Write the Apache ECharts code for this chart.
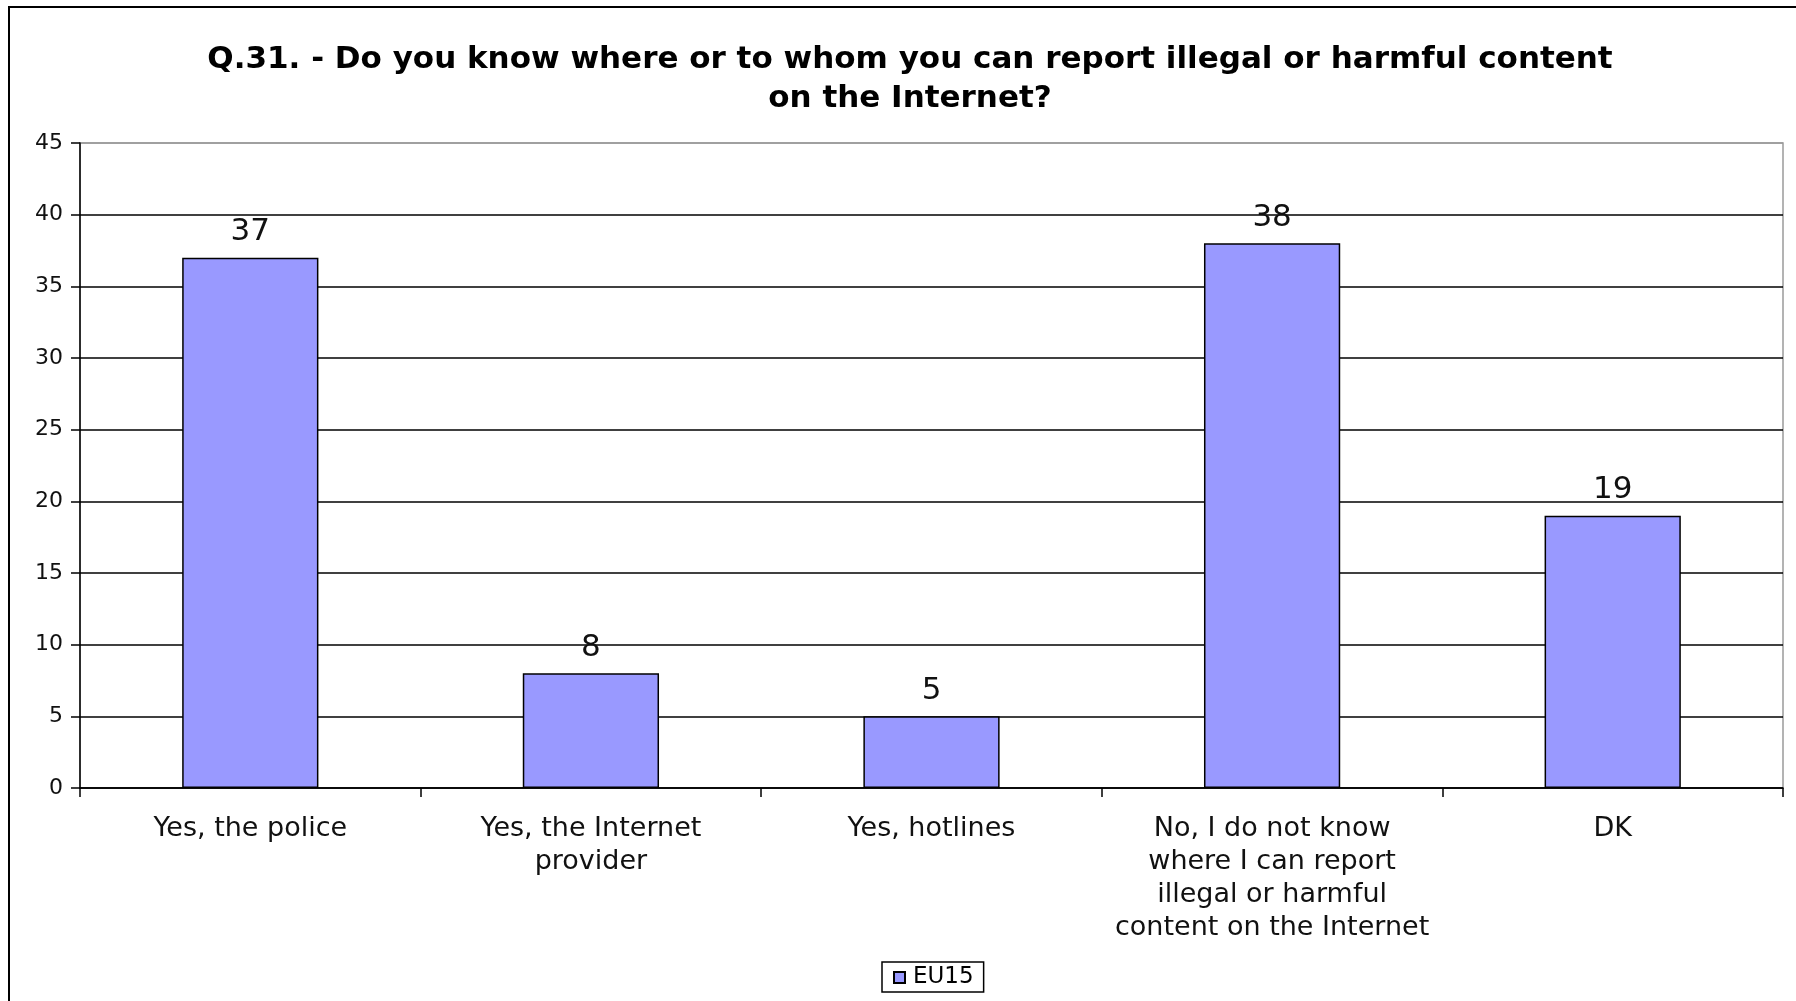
<!DOCTYPE html>
<html>
<head>
<meta charset="utf-8">
<script src="https://cdn.jsdelivr.net/npm/echarts@6/dist/echarts.min.js"></script>
<style>
html,body{margin:0;padding:0;background:#fff;}
#chart{width:1796px;height:1001px;}
</style>
</head>
<body>
<div id="chart"></div>
<script>
const titleText = "Q.31. - Do you know where or to whom you can report illegal or harmful content\non the Internet?";
const categories = [
  "Yes, the police",
  "Yes, the Internet\nprovider",
  "Yes, hotlines",
  "No, I do not know\nwhere I can report\nillegal or harmful\ncontent on the Internet",
  "DK"
];
const seriesName = "EU15";
const values = [37, 8, 5, 38, 19];
const yTicks = [0, 5, 10, 15, 20, 25, 30, 35, 40, 45];

const chart = echarts.init(document.getElementById('chart'), null, {renderer: 'canvas'});
const font = "'DejaVu Sans', 'Liberation Sans', Arial, sans-serif";
const gridColors = yTicks.map((t, i) => i === yTicks.length - 1 ? '#9a9a9a' : '#000');

chart.setOption({
  backgroundColor: '#fff',
  animation: false,
  graphic: [{
    type: 'rect',
    shape: {x: 9, y: 7, width: 1800, height: 1000},
    style: {fill: 'none', stroke: '#000', lineWidth: 2}
  }],
  title: {
    text: titleText,
    left: 905,
    top: 35,
    textAlign: 'center',
    textStyle: {fontFamily: font, fontSize: 31, fontWeight: 'bold', color: '#000', lineHeight: 39}
  },
  legend: {
    top: 962,
    left: 882,
    data: [seriesName],
    itemWidth: 11,
    itemHeight: 11,
    itemGap: 6,
    padding: [4, 10, 3, 11],
    borderColor: '#000',
    borderWidth: 1.5,
    icon: 'rect',
    textStyle: {fontFamily: font, fontSize: 23, color: '#000', padding: [0, 0, 0, 3]}
  },
  grid: {
    left: 80, right: 13, top: 143, bottom: 213,
    show: true, borderColor: '#9a9a9a', borderWidth: 1.5, backgroundColor: 'transparent'
  },
  xAxis: {
    type: 'category',
    data: categories,
    axisLine: {lineStyle: {color: '#000', width: 1.5}},
    axisTick: {show: true, length: 9, alignWithLabel: false, lineStyle: {color: '#000', width: 1.5}},
    axisLabel: {fontFamily: font, fontSize: 27, color: '#111', margin: 24, lineHeight: 33, interval: 0}
  },
  yAxis: {
    type: 'value',
    min: 0, max: 45, interval: 5,
    axisLine: {show: true, lineStyle: {color: '#000', width: 1.5}},
    axisTick: {show: true, length: 9, lineStyle: {color: '#000', width: 1.5}},
    axisLabel: {fontFamily: font, fontSize: 22, color: '#111', margin: 17},
    splitLine: {show: true, lineStyle: {color: gridColors, width: 1.5}}
  },
  series: [{
    name: seriesName,
    type: 'bar',
    data: values,
    barWidth: '40%',
    itemStyle: {color: '#9999FF', borderColor: '#000', borderWidth: 1.5},
    label: {show: true, position: 'top', distance: 10, fontFamily: font, fontSize: 31, color: '#111'}
  }]
});
</script>
</body>
</html>
